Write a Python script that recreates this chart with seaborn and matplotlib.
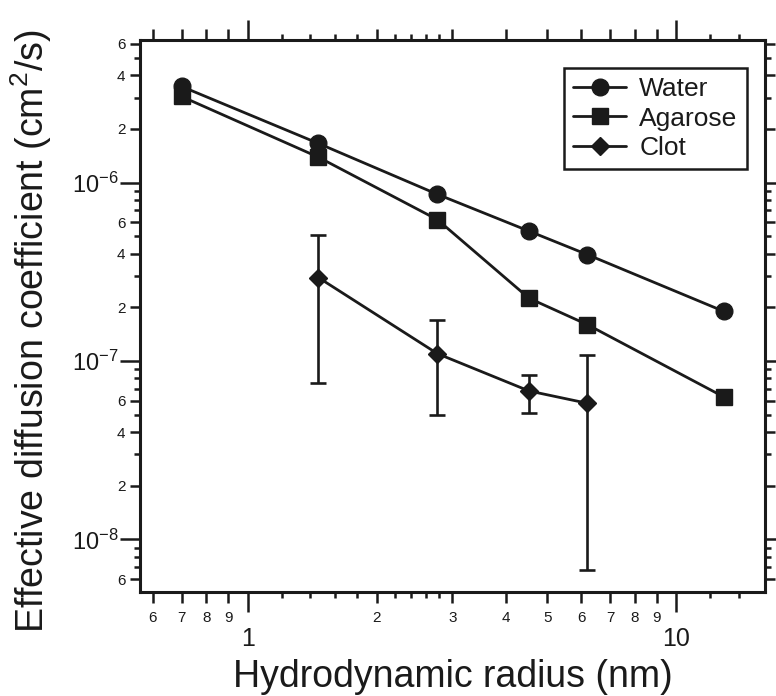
import numpy as np
import pandas as pd
import seaborn as sns
import matplotlib
matplotlib.use("Agg")
import matplotlib.pyplot as plt
from matplotlib.ticker import FixedLocator, FixedFormatter, NullLocator

# hydrodynamic radius (nm)
radius = [0.7, 1.46, 2.77, 4.53, 6.2, 12.9]
water = [3.46e-6, 1.66e-6, 8.6e-7, 5.35e-7, 3.95e-7, 1.9e-7]
agarose = [3.04e-6, 1.39e-6, 6.2e-7, 2.25e-7, 1.6e-7, 6.3e-8]

clot_radius = [1.46, 2.77, 4.53, 6.2]
clot = [2.94e-7, 1.10e-7, 6.8e-8, 5.8e-8]
clot_low = [7.5e-8, 5.0e-8, 5.1e-8, 6.75e-9]
clot_high = [5.07e-7, 1.70e-7, 8.4e-8, 1.08e-7]

# tick setup (Igor-like: long decades, labelled mid ticks, short unlabelled ticks)
x_major = [1, 10]
x_major_labels = ["1", "10"]
x_mid = [0.6, 0.7, 0.8, 0.9, 2, 3, 4, 5, 6, 7, 8, 9]
x_mid_labels = ["6", "7", "8", "9", "2", "3", "4", "5", "6", "7", "8", "9"]
x_short = [1.2, 1.4, 1.6, 1.8, 2.2, 2.4, 2.6, 2.8, 12, 14]

y_major = [1e-8, 1e-7, 1e-6]
y_major_labels = ["10$^{-8}$", "10$^{-7}$", "10$^{-6}$"]
y_mid = [6e-9, 2e-8, 4e-8, 6e-8, 2e-7, 4e-7, 6e-7, 2e-6, 4e-6, 6e-6]
y_mid_labels = ["6", "2", "4", "6", "2", "4", "6", "2", "4", "6"]
y_short = [7e-9, 8e-9, 9e-9,
           3e-8, 5e-8, 7e-8, 8e-8, 9e-8,
           3e-7, 5e-7, 7e-7, 8e-7, 9e-7,
           3e-6, 5e-6]

sns.set_theme(style="ticks", rc={"text.color": "k", "axes.labelcolor": "k",
                                 "xtick.color": "k", "ytick.color": "k",
                                 "axes.edgecolor": "k"})
plt.rcParams["font.family"] = ["Liberation Sans", "DejaVu Sans"]
plt.rcParams["mathtext.fontset"] = "custom"
plt.rcParams["mathtext.rm"] = "Liberation Sans"
plt.rcParams["mathtext.it"] = "Liberation Sans:italic"
plt.rcParams["mathtext.bf"] = "Liberation Sans:bold"

fig = plt.figure(figsize=(7.76, 6.96), dpi=100)
ax = fig.add_axes([0.1804, 0.1499, 0.8054, 0.7926])
ax.set_xscale("log")
ax.set_yscale("log")
xlim = (0.56, 16.1)
ylim = (5.1e-9, 6.3e-6)

df = pd.concat([
    pd.DataFrame({"radius": radius, "D": water, "medium": "Water"}),
    pd.DataFrame({"radius": radius, "D": agarose, "medium": "Agarose"}),
    pd.DataFrame({"radius": clot_radius, "D": clot, "medium": "Clot"}),
])

ax.errorbar(clot_radius, clot,
            yerr=[np.array(clot) - np.array(clot_low), np.array(clot_high) - np.array(clot)],
            fmt="none", ecolor="k", elinewidth=1.9, capsize=6, capthick=1.9, zorder=2)

styles = {"Water": ("o", 12), "Agarose": ("s", 11), "Clot": ("D", 9.5)}
for name, (mk, ms) in styles.items():
    sub = df[df["medium"] == name]
    sns.lineplot(data=sub, x="radius", y="D", ax=ax, color="k", linewidth=2,
                 marker=mk, markersize=ms, markeredgecolor="k", markeredgewidth=1,
                 label=name, errorbar=None, zorder=3)

ax.set_xlim(*xlim)
ax.set_ylim(*ylim)

# labelled ticks on main axes
ax.xaxis.set_major_locator(FixedLocator(x_major))
ax.xaxis.set_major_formatter(FixedFormatter(x_major_labels))
ax.xaxis.set_minor_locator(FixedLocator(x_mid))
ax.xaxis.set_minor_formatter(FixedFormatter(x_mid_labels))
ax.yaxis.set_major_locator(FixedLocator(y_major))
ax.yaxis.set_major_formatter(FixedFormatter(y_major_labels))
ax.yaxis.set_minor_locator(FixedLocator(y_mid))
ax.yaxis.set_minor_formatter(FixedFormatter(y_mid_labels))

# short unlabelled ticks on twin axes
axt = ax.twiny()
axt.set_xscale("log")
axt.set_xlim(*xlim)
axt.xaxis.set_major_locator(FixedLocator(x_short))
axt.xaxis.set_minor_locator(NullLocator())
axt.tick_params(axis="x", which="major", bottom=True, top=True, direction="out",
                length=4.5, width=1.8, color="k", labelbottom=False, labeltop=False)
axr = ax.twinx()
axr.set_yscale("log")
axr.set_ylim(*ylim)
axr.yaxis.set_major_locator(FixedLocator(y_short))
axr.yaxis.set_minor_locator(NullLocator())
axr.tick_params(axis="y", which="major", left=True, right=True, direction="out",
                length=4.5, width=1.8, color="k", labelleft=False, labelright=False)
for a in (axt, axr):
    for sp in a.spines.values():
        sp.set_visible(False)

ax.tick_params(axis="both", which="both", direction="out", color="k", labelcolor="k",
               top=True, right=True, labeltop=False, labelright=False, width=1.8)
ax.tick_params(axis="x", which="major", length=14.5, labelsize=18, pad=11)
ax.tick_params(axis="x", which="minor", length=8, labelsize=11, pad=6)
ax.tick_params(axis="y", which="major", length=14.5, labelsize=17, pad=1)
ax.tick_params(axis="y", which="minor", length=7.5, labelsize=11, pad=3)

for sp in ax.spines.values():
    sp.set_linewidth(2.2)
    sp.set_color("k")

ax.set_xlabel("Hydrodynamic radius (nm)", fontsize=27, labelpad=6, color="k")
ax.set_ylabel("Effective diffusion coefficient (cm$^2$/s)", fontsize=27, color="k")
ax.yaxis.set_label_coords(-0.137, 0.472)

leg = ax.legend(loc="upper right", bbox_to_anchor=(0.971, 0.949), borderaxespad=0,
                frameon=True, fancybox=False, edgecolor="k", framealpha=1,
                fontsize=19, handlelength=2.0, handletextpad=0.5,
                labelspacing=0.2, borderpad=0.35)
leg.get_frame().set_linewidth(1.8)
for t in leg.get_texts():
    t.set_color("k")

fig.savefig("out.png", dpi=100)
